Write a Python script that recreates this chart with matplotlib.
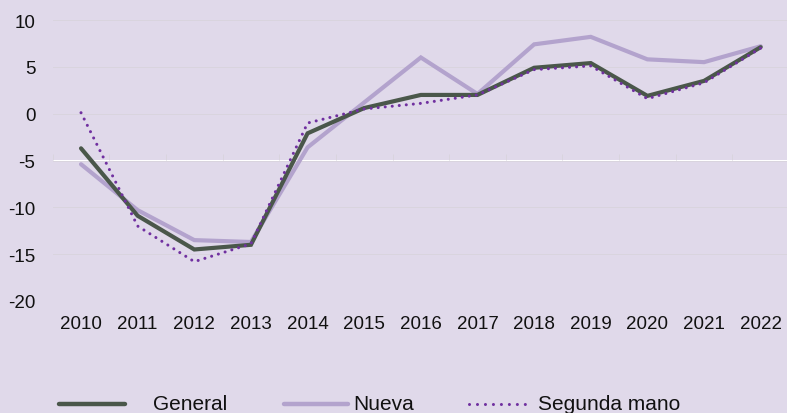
import matplotlib
matplotlib.use("Agg")
import matplotlib.pyplot as plt
from matplotlib.lines import Line2D
import numpy as np

plt.rcParams['font.family'] = ['Liberation Sans', 'DejaVu Sans']
plt.rcParams['axes.unicode_minus'] = False

years = [2010, 2011, 2012, 2013, 2014, 2015, 2016, 2017, 2018, 2019, 2020, 2021, 2022]
general = [-3.7, -10.9, -14.5, -14.0, -2.1, 0.6, 2.0, 2.0, 4.9, 5.4, 1.9, 3.5, 7.1]
nueva = [-5.4, -10.3, -13.5, -13.7, -3.6, 1.2, 6.0, 2.1, 7.4, 8.2, 5.8, 5.5, 7.2]
segunda = [0.1, -12.0, -15.8, -13.9, -1.0, 0.5, 1.1, 2.0, 4.7, 5.1, 1.6, 3.3, 7.0]
series_names = ["General", "Nueva", "Segunda mano"]
yticks = [-20, -15, -10, -5, 0, 5, 10]

BG = '#E0D9EA'
C_GEN = '#4A574A'
C_NUE = '#B3A3CD'
C_SEG = '#7030A0'
GRID = '#D9D4DE'

fig = plt.figure(figsize=(7.87, 4.14), dpi=100, facecolor=BG)
ax = fig.add_axes([52.7/787, 112/414, (789-52.7)/787, 281/414])
ax.set_facecolor(BG)

ax.plot(years, nueva, color=C_NUE, lw=3.0, solid_capstyle='round', solid_joinstyle='miter', zorder=3)
ax.plot(years, general, color=C_GEN, lw=3.0, solid_capstyle='round', solid_joinstyle='miter', zorder=4)
ax.plot(years, segunda, color=C_SEG, lw=2.2, linestyle=(0, (0.01, 2.3)), dash_capstyle='round', zorder=5)

ax.set_xlim(years[0] - 0.5, years[-1] + 0.5)
ax.set_ylim(yticks[0], yticks[-1])
ax.set_yticks(yticks)
ax.set_yticklabels([str(v) for v in yticks])
ax.set_xticks(years)
ax.set_xticklabels([str(y) for y in years])
ax.tick_params(axis='both', length=0, labelsize=13.5, colors='#111111')
ax.tick_params(axis='y', pad=12.5)
ax.tick_params(axis='x', pad=10)
for s in ax.spines.values():
    s.set_visible(False)
ax.grid(axis='y', color=GRID, lw=0.7)
ax.set_axisbelow(True)

# category axis tick marks at y = -5
loc = (-5 - yticks[0]) / (yticks[-1] - yticks[0])
sec = ax.secondary_xaxis(loc)
sec.set_xticks([y + 0.5 for y in years[:-1]] + [years[0] - 0.5])
sec.set_xticklabels([])
sec.tick_params(axis='x', length=4, color=GRID, width=0.7, direction='out')
for sp in sec.spines.values():
    sp.set_visible(False)

# legend
ly = (414 - 405) / 414
entries = [
    (59, 125, 153.5, dict(color=C_GEN, lw=3.2, solid_capstyle='round')),
    (284, 348, 353, dict(color=C_NUE, lw=3.2, solid_capstyle='round')),
    (469, 531, 538, dict(color=C_SEG, lw=2.2, linestyle=(0, (0.01, 2.6)), dash_capstyle='round')),
]
for (x0, x1, xt, kw), name in zip(entries, series_names):
    fig.add_artist(Line2D([x0/787, x1/787], [ly, ly], transform=fig.transFigure, **kw))
    fig.text(xt/787, ly, name, fontsize=15, va='center', ha='left', color='#111111')

fig.savefig('out.png', dpi=100, facecolor=BG)
